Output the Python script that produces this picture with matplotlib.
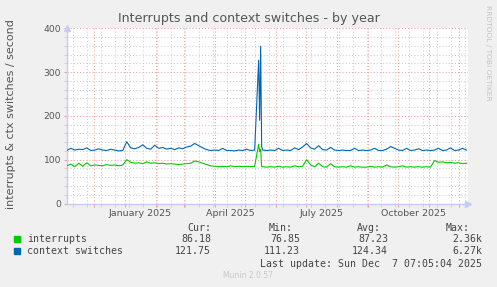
import numpy as np
import pandas as pd
import matplotlib
matplotlib.use("Agg")
import matplotlib.pyplot as plt
import matplotlib.dates as mdates
from matplotlib.patches import Rectangle

# samples every 4 days starting at the left edge of the graph
start = "2024-11-03 12:00"
step = "4D"

ctx_switches = [121, 126, 122, 124,
                123, 127, 121, 122, 125, 122, 121, 124, 122, 120, 121, 141,
                127, 125, 128, 134, 126, 124, 133, 126, 128, 124, 126, 123, 127, 125, 129, 131, 137, 132, 127, 123,
                121, 122, 121, 126, 121, 121, 120, 122, 121, 124, 121, 122,
                327, 122,
                121, 122, 121, 126, 121, 122, 121, 127, 123, 129,
                137, 127, 124, 132, 123, 122, 128, 122, 121, 122,
                121, 121, 126, 121, 122, 121, 122, 126, 121, 121,
                124, 130, 126, 122, 121, 126, 121, 122, 125, 121,
                122, 121, 122, 126, 121, 122, 127, 121, 122, 126,
                122]

interrupts = [86, 90, 84, 92,
              85, 93, 86, 88, 87, 86, 89, 87, 88, 86, 88, 100,
              94, 92, 93, 91, 95, 92, 93, 91, 92, 90, 91, 90, 89, 90, 91, 92, 97, 95, 92, 89,
              86, 85, 84, 85, 84, 86, 84, 85, 84, 85, 84, 85,
              135, 84,
              83, 84, 83, 85, 83, 84, 83, 86, 84, 85,
              100, 88, 84, 92, 84, 83, 91, 84, 83, 84,
              83, 86, 83, 84, 83, 83, 85, 83, 84, 83,
              88, 84, 83, 84, 86, 83, 84, 83, 84, 83,
              84, 83, 98, 94, 95, 93, 94, 92, 93, 91,
              92]

# the mid-May spike, daily samples
spike_dates = ["2025-05-15 12:00", "2025-05-16 12:00", "2025-05-17 12:00"]
spike_ctx = [190, 359, 130]
spike_irq = [118, 124, 84]

month_labels = ["January 2025", "April 2025", "July 2025", "October 2025"]
month_label_dates = ["2025-01-16", "2025-04-16", "2025-07-16", "2025-10-16"]

legend_names = ["interrupts", "context switches"]
cur_vals = ["86.18", "121.75"]
min_vals = ["76.85", "111.23"]
avg_vals = ["87.23", "124.34"]
max_vals = ["2.36k", "6.27k"]

GREEN = "#00CC00"
BLUE = "#0066B3"
TXT = "#555555"
AXIS = "#c8ccf4"
MGRID = "#eaa3a3"
GRID = "#cfcfcf"


def build_series(values, extra_values):
    idx = pd.date_range(start, periods=len(values), freq=step)
    base = pd.Series(values, index=idx, dtype=float)
    extra = pd.Series(extra_values, index=pd.to_datetime(spike_dates), dtype=float)
    return pd.concat([base, extra]).sort_index()


W, H = 497, 287
fig = plt.figure(figsize=(W / 100, H / 100), dpi=100, facecolor="#F0F0F0")

left, right, top, bottom = 66.7, 468, 28.3, 203.5
ax = fig.add_axes([left / W, 1 - bottom / H, (right - left) / W, (bottom - top) / H])
ax.set_facecolor("white")

irq = build_series(interrupts, spike_irq)
ctx = build_series(ctx_switches, spike_ctx)
ax.plot(irq.index, irq.values, color=GREEN, lw=0.8, zorder=3)
ax.plot(ctx.index, ctx.values, color=BLUE, lw=0.8, zorder=4)

ax.set_xlim(pd.Timestamp("2024-11-03 10:00"), pd.Timestamp("2025-12-10 00:00"))
ax.set_ylim(0, 400)

# grid
ax.set_yticks([0, 100, 200, 300, 400])
ax.set_yticks(np.arange(0, 401, 20), minor=True)
ax.xaxis.set_major_locator(mdates.MonthLocator())
minor_days = pd.date_range("2024-11-10", "2025-12-10", freq="14D")
ax.set_xticks(mdates.date2num(minor_days), minor=True)
ax.xaxis.set_major_formatter(plt.NullFormatter())
ax.xaxis.set_minor_formatter(plt.NullFormatter())

dots = (0, (1, 2))
ax.grid(True, which="minor", color=GRID, lw=0.75, ls=dots, zorder=0)
ax.grid(True, which="major", color=MGRID, lw=0.75, ls=dots, zorder=1)
ax.set_axisbelow(True)

ax.tick_params(which="major", length=2, width=0.75, color=MGRID, labelsize=6.6,
               labelcolor=TXT, pad=2)
ax.tick_params(which="minor", length=2, width=0.75, color=GRID)

for s in ("top", "right"):
    ax.spines[s].set_visible(False)
for s in ("left", "bottom"):
    ax.spines[s].set_color(AXIS)
    ax.spines[s].set_linewidth(1.0)

# axis arrows
ax.plot([0], [1.0], marker="^", ms=5, color=AXIS, transform=ax.transAxes, clip_on=False, zorder=5)
ax.plot([1.0], [0], marker=">", ms=5, color=AXIS, transform=ax.transAxes, clip_on=False, zorder=5)

trans = ax.get_xaxis_transform()
for lab, d in zip(month_labels, month_label_dates):
    ax.text(pd.Timestamp(d), -0.055, lab, transform=trans, ha="center", va="center",
            fontsize=6.8, color=TXT)

fig.text(248.5 / W, 1 - 18.5 / H, "Interrupts and context switches - by year",
         ha="center", va="center", fontsize=9.1, color=TXT)
fig.text(11 / W, 1 - 114 / H, "interrupts & ctx switches / second", rotation=90,
         ha="center", va="center", fontsize=8.0, color=TXT)
fig.text(488 / W, 1 - 53 / H, "RRDTOOL / TOBI OETIKER", rotation=270,
         ha="center", va="center", fontsize=5.4, color="#c4c4c4")
fig.text(248 / W, 1 - 276 / H, "Munin 2.0.57", ha="center", va="center",
         fontsize=5.5, color="#c8c8c8")

# legend table
mono = dict(family="DejaVu Sans Mono", fontsize=7.1, color="#444444", va="center")
fig.text(211 / W, 1 - 227.7 / H, "Cur:", ha="right", **mono)
fig.text(293 / W, 1 - 227.7 / H, "Min:", ha="right", **mono)
fig.text(381 / W, 1 - 227.7 / H, "Avg:", ha="right", **mono)
fig.text(470 / W, 1 - 227.7 / H, "Max:", ha="right", **mono)
for k, (name, col) in enumerate(zip(legend_names, [GREEN, BLUE])):
    y = 239.2 + 12 * k
    fig.patches.append(Rectangle((14 / W, 1 - (y + 3) / H), 6 / W, 6 / H,
                                 transform=fig.transFigure, color=col))
    fig.text(26.7 / W, 1 - y / H, name, ha="left", **mono)
    fig.text(211 / W, 1 - y / H, cur_vals[k], ha="right", **mono)
    fig.text(300 / W, 1 - y / H, min_vals[k], ha="right", **mono)
    fig.text(388 / W, 1 - y / H, avg_vals[k], ha="right", **mono)
    fig.text(482.5 / W, 1 - y / H, max_vals[k], ha="right", **mono)
fig.text(482.5 / W, 1 - 264 / H, "Last update: Sun Dec  7 07:05:04 2025", ha="right", **mono)

fig.savefig("out.png", dpi=100, facecolor=fig.get_facecolor())
